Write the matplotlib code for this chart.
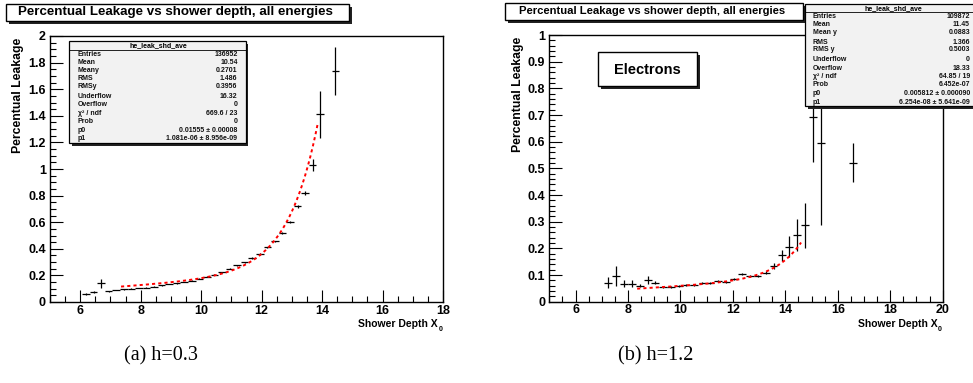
import numpy as np
import matplotlib
matplotlib.use("Agg")
import matplotlib.pyplot as plt
from matplotlib.patches import Rectangle
from matplotlib.ticker import MultipleLocator

# ---- data: left panel (h=0.3) ----
x_a = [6.19, 6.44, 6.69, 6.94, 7.19, 7.44, 7.69, 7.94, 8.19, 8.44, 8.69, 8.94,
       9.19, 9.44, 9.69, 9.94, 10.19, 10.44, 10.69, 10.94, 11.19, 11.44, 11.69,
       11.94, 12.19, 12.44, 12.69, 12.94, 13.19, 13.44, 13.69, 13.94, 14.44]
y_a = [0.058, 0.075, 0.140, 0.080, 0.090, 0.095, 0.100, 0.105, 0.108, 0.115,
       0.125, 0.135, 0.140, 0.150, 0.160, 0.175, 0.190, 0.205, 0.225, 0.250,
       0.275, 0.300, 0.330, 0.360, 0.410, 0.455, 0.520, 0.600, 0.720, 0.820,
       1.030, 1.410, 1.740]
ey_a = [0.006, 0.005, 0.035, 0.004, 0.003, 0.003, 0.003, 0.003, 0.003, 0.003,
        0.003, 0.003, 0.003, 0.003, 0.003, 0.003, 0.003, 0.003, 0.004, 0.004,
        0.004, 0.004, 0.005, 0.005, 0.005, 0.006, 0.006, 0.008, 0.012, 0.018,
        0.045, 0.175, 0.180]
p_a = (0.01555, 1.081e-06)
fit_range_a = (7.35, 13.85)

# ---- data: right panel (h=1.2, electrons) ----
x_b = [7.24, 7.53, 7.85, 8.15, 8.45, 8.75, 9.04, 9.34, 9.63, 9.94, 10.23,
       10.52, 10.84, 11.12, 11.44, 11.73, 12.05, 12.36, 12.65, 12.94, 13.25,
       13.55, 13.86, 14.15, 14.46, 14.75, 15.06, 15.35, 16.57]
y_b = [0.071, 0.096, 0.068, 0.068, 0.060, 0.081, 0.071, 0.056, 0.056, 0.060,
       0.062, 0.061, 0.070, 0.070, 0.078, 0.074, 0.084, 0.105, 0.095, 0.096,
       0.109, 0.134, 0.174, 0.206, 0.249, 0.286, 0.691, 0.594, 0.521]
ey_b = [0.020, 0.038, 0.012, 0.012, 0.006, 0.014, 0.005, 0.004, 0.004, 0.004,
        0.004, 0.004, 0.004, 0.004, 0.005, 0.004, 0.004, 0.004, 0.004, 0.004,
        0.006, 0.012, 0.020, 0.040, 0.060, 0.085, 0.166, 0.307, 0.074]
p_b = (0.005812, 6.254e-08)
fit_range_b = (8.35, 14.6)

title = "Percentual Leakage vs shower depth, all energies"
stats_a = [("Entries", "136952"), ("Mean", "10.54"), ("Meany", "0.2701"),
           ("RMS", "1.486"), ("RMSy", "0.3956"), ("Underflow", "16.32"),
           ("Overflow", "0"), ("χ² / ndf", "669.6 / 23"), ("Prob", "0"),
           ("p0", "0.01555 ± 0.00008"), ("p1", "1.081e-06 ± 8.956e-09")]
stats_b = [("Entries", "109872"), ("Mean", "11.45"), ("Mean y", "0.0883"),
           ("RMS", "1.366"), ("RMS y", "0.5003"), ("Underflow", "0"),
           ("Overflow", "18.33"), ("χ² / ndf", "64.85 / 19"), ("Prob", "6.452e-07"),
           ("p0", "0.005812 ± 0.000090"), ("p1", "6.254e-08 ± 5.641e-09")]

W, H = 973, 383
fig = plt.figure(figsize=(W / 100, H / 100), dpi=100)
fig.patch.set_facecolor("white")
SANS = "Liberation Sans"


def fx(px):
    return px / W


def fy(py):
    return 1 - py / H


def box(x0, y0, x1, y1, face="white", shadow=3, lw=0.9, z=5):
    # ROOT style pave with drop shadow, pixel coordinates (top-left origin)
    if shadow:
        fig.patches.append(Rectangle((fx(x0 + shadow), fy(y1 + shadow)),
                                     fx(x1 - x0), fy(y0) - fy(y1),
                                     transform=fig.transFigure, facecolor="#222222",
                                     edgecolor="none", zorder=z))
    fig.patches.append(Rectangle((fx(x0), fy(y1)), fx(x1 - x0), fy(y0) - fy(y1),
                                 transform=fig.transFigure, facecolor=face,
                                 edgecolor="black", lw=lw, zorder=z + 0.1))


def panel(rect_px, xlim, ylim, ymaj, ymin, xs, ys, eys, half, pars, frange,
          ylab_x, xlab_right):
    x0, y0, x1, y1 = rect_px
    ax = fig.add_axes([fx(x0), fy(y1), fx(x1 - x0), fy(y0) - fy(y1)])
    ax.set_xlim(*xlim)
    ax.set_ylim(*ylim)
    ax.errorbar(xs, ys, xerr=half, yerr=eys, fmt="none", ecolor="black",
                elinewidth=0.9, capsize=0, zorder=3)
    xf = np.linspace(frange[0], frange[1], 300)
    ax.plot(xf, pars[0] * xf + pars[1] * np.exp(xf), color="#ff0000", lw=1.4,
            linestyle=(0, (1.6, 1.6)), zorder=4)
    ax.xaxis.set_major_locator(MultipleLocator(2))
    ax.xaxis.set_minor_locator(MultipleLocator(0.5))
    ax.yaxis.set_major_locator(MultipleLocator(ymaj))
    ax.yaxis.set_minor_locator(MultipleLocator(ymin))
    ax.tick_params(which="both", direction="in", top=False, right=False,
                   width=0.8, colors="black")
    ax.tick_params(which="major", length=9)
    ax.tick_params(which="minor", length=4.5)
    ax.tick_params(axis="y", pad=3)
    ax.tick_params(axis="x", pad=2)
    for lab in ax.get_xticklabels() + ax.get_yticklabels():
        lab.set_fontfamily(SANS)
        lab.set_fontweight("bold")
        lab.set_fontsize(9)
    ax.yaxis.set_major_formatter(plt.FuncFormatter(lambda v, p: f"{v:g}"))
    for sp in ax.spines.values():
        sp.set_linewidth(1.0)
    fig.text(fx(ylab_x), fy(y0 + 2), "Percentual Leakage", rotation=90,
             ha="center", va="top", fontsize=8.8, fontweight="bold",
             family=SANS)
    fig.text(fx(xlab_right - 5), fy(327), "Shower Depth X", ha="right",
             va="baseline", fontsize=7.5, fontweight="bold", family=SANS)
    fig.text(fx(xlab_right - 4.5), fy(331), "0", ha="left", va="baseline",
             fontsize=5, fontweight="bold", family=SANS)
    return ax


panel((50, 36, 443, 302), (5, 18), (0, 2), 0.2, 0.05, x_a, y_a, ey_a, 0.125,
      p_a, fit_range_a, 18, 443)
panel((549.3, 35, 942.7, 301.7), (5, 20), (0, 1), 0.1, 0.02, x_b, y_b, ey_b,
      0.15, p_b, fit_range_b, 518, 942.7)

# titles
box(6, 4, 349, 21, shadow=2.5, lw=1.0)
fig.text(fx(175), fy(12.5), title, ha="center", va="center", fontsize=9.6,
         fontweight="bold", family=SANS, zorder=7)
box(505, 3, 803, 20, shadow=2.5, lw=1.0)
fig.text(fx(652), fy(11.5), title, ha="center", va="center", fontsize=8.1,
         fontweight="bold", family=SANS, zorder=7)


def stats(x0, y0, x1, y1, header_y, rows, row_ys, lab_x, val_x, hx):
    box(x0, y0, x1, y1, face="#f2f2f2", shadow=2.5, lw=0.9, z=8)
    fig.lines.append(plt.Line2D([fx(x0), fx(x1)], [fy(header_y + 4)] * 2,
                                transform=fig.transFigure, color="black",
                                lw=0.6, zorder=9))
    fig.text(fx(hx), fy(header_y), "he_leak_shd_ave", ha="center", va="center",
             fontsize=5, fontweight="bold", family=SANS, zorder=10)
    for (lab, val), yy in zip(rows, row_ys):
        fig.text(fx(lab_x), fy(yy), lab, ha="left", va="center", fontsize=5,
                 fontweight="bold", family=SANS, zorder=10, color="#111111")
        fig.text(fx(val_x), fy(yy), val, ha="right", va="center", fontsize=5,
                 fontweight="bold", family=SANS, zorder=10, color="#111111")


stats(69, 41, 246, 143, 45.5, stats_a,
      [54.3, 62.3, 70.3, 79, 87, 96.3, 104.3, 113.3, 121.3, 130.3, 138.3],
      77.5, 237.5, 158)
stats(805, 4, 990, 106, 8.3, stats_b,
      [16.7, 24.7, 32.7, 42.3, 49.7, 59.3, 68.3, 76.7, 84.7, 93.3, 102.3],
      812.7, 970, 893)

# label pave in the electron panel
box(598, 52, 697, 86, shadow=2.5, lw=1.0)
fig.text(fx(647.5), fy(69.5), "Electrons", ha="center", va="center",
         fontsize=10.5, fontweight="bold", family=SANS, zorder=7)

# sub-figure captions
fig.text(fx(161), fy(356), "(a) h=0.3", ha="center", va="center", fontsize=14.5,
         family="Liberation Serif")
fig.text(fx(656), fy(356), "(b) h=1.2", ha="center", va="center", fontsize=14.5,
         family="Liberation Serif")

fig.savefig("out.png", dpi=100, facecolor="white")
